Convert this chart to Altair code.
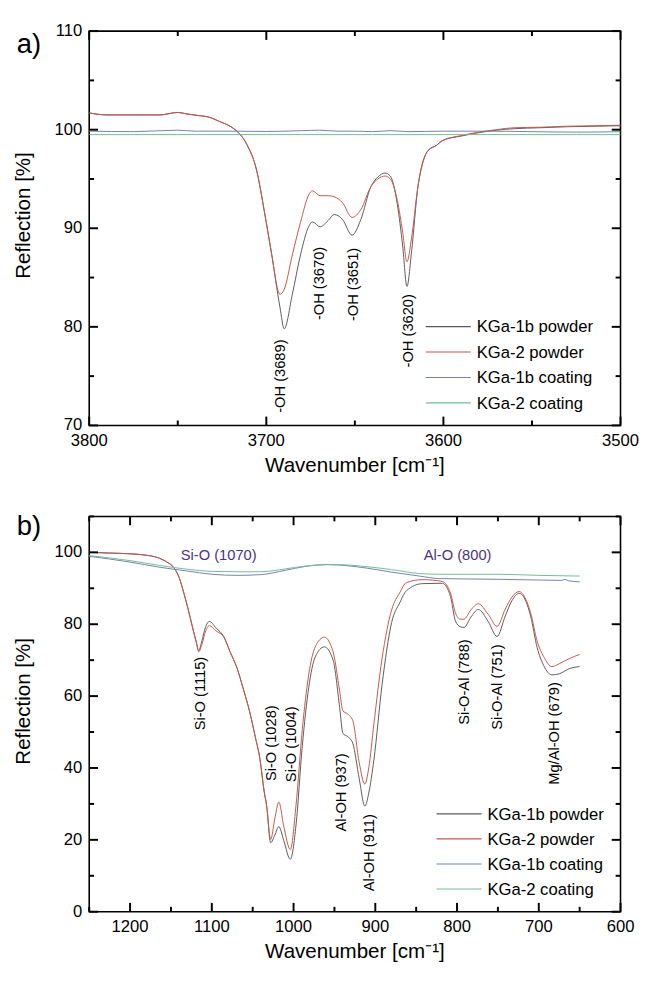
import altair as alt
import pandas as pd

FONT = "Liberation Sans, Arial, Helvetica, sans-serif"

SERIES = ["KGa-1b powder", "KGa-2 powder", "KGa-1b coating", "KGa-2 coating"]
COLORS = ["#5a5a5a", "#c4574e", "#7480aa", "#72bb93"]

# ---------------- panel a) : OH stretching region ----------------
A_WN = [3800, 3790, 3775, 3760, 3750, 3745, 3739, 3733, 3726, 3720, 3716.6, 3711, 3705.5, 3701,
        3697.2, 3692.3, 3689.9, 3685.3, 3680.7, 3676, 3674, 3669.6, 3665, 3661.7, 3657, 3651.6,
        3646.6, 3641, 3637, 3633, 3630, 3626, 3623, 3620.6, 3618, 3614.4, 3608.6, 3604, 3600.5,
        3590, 3580, 3570, 3560, 3545, 3530, 3515, 3500]
A_K1B_POWDER = [101.7, 101.5, 101.5, 101.5, 101.75, 101.6, 101.45, 101.3, 100.8, 100.3, 99.85, 98.5,
                95.9, 91.6, 87.6, 82.0, 79.8, 83.3, 87.3, 90.2, 90.65, 90.15, 90.8, 91.4, 90.9, 89.3,
                90.9, 94.2, 95.2, 95.6, 95.3, 92.4, 88.2, 84.1, 87.6, 94.2, 97.9, 98.4, 98.9,
                99.35, 99.7, 99.95, 100.1, 100.2, 100.3, 100.35, 100.4]
A_K2_POWDER = [101.7, 101.5, 101.5, 101.5, 101.75, 101.6, 101.45, 101.3, 100.8, 100.3, 99.85, 98.5,
               95.9, 91.6, 87.6, 83.3, 83.8, 87.3, 90.6, 93.4, 93.8, 93.3, 93.3, 93.2, 92.6, 91.1,
               91.9, 94.2, 95.0, 95.3, 95.0, 92.8, 89.6, 86.6, 89.0, 94.2, 97.9, 98.4, 98.9,
               99.4, 99.75, 100.0, 100.2, 100.25, 100.35, 100.4, 100.45]
A_COAT_WN = [3800, 3775, 3750, 3740, 3720, 3700, 3680, 3670, 3660, 3650, 3640, 3630, 3620, 3600,
             3575, 3550, 3525, 3500]
A_K1B_COAT = [99.85, 99.8, 99.95, 99.85, 99.85, 99.82, 99.9, 99.95, 99.85, 99.85, 99.8, 99.9, 99.8,
              99.85, 99.85, 99.8, 99.75, 99.8]
A_K2_COAT = [99.5, 99.5, 99.5, 99.5, 99.5, 99.5, 99.5, 99.5, 99.5, 99.5, 99.5, 99.5, 99.5, 99.5,
             99.5, 99.5, 99.5, 99.5]

A_LABELS = ["-OH (3689)", "-OH (3670)", "-OH (3651)", "-OH (3620)"]
A_LABEL_WN = [3692, 3670, 3651.2, 3620]
A_LABEL_Y = [75.0, 84.4, 84.3, 79.6]

A_X_MAJOR = [3800, 3700, 3600, 3500]
A_X_MINOR = [3750, 3650, 3550]
A_Y_MAJOR = [70, 80, 90, 100, 110]
A_Y_MINOR = [75, 85, 95, 105]

# ---------------- panel b) : lattice region ----------------
B_WN = [1250, 1225, 1200, 1180, 1167, 1155, 1147, 1140, 1134, 1129, 1124, 1119, 1116, 1112, 1108,
        1103, 1095, 1085, 1078, 1069, 1062, 1053, 1047, 1041, 1036, 1033, 1028, 1023, 1018, 1012,
        1004, 997, 989.4, 981.5, 973.5, 962.3, 951.6, 943.6, 939.6, 933.6, 927.6, 919.6, 912.8,
        908, 901.7, 891.7, 880, 870, 862, 842, 818, 808, 802, 796, 791.5, 783, 774, 762, 751,
        741, 733, 724, 716, 710, 702, 694, 684, 675, 662, 650]
B_K1B_POWDER = [100.0, 99.8, 99.6, 99.2, 98.6, 97.3, 95.9, 93.0, 88.5, 84.2, 79.5, 75.0, 72.7, 75.5,
                79.0, 80.8, 79.0, 76.4, 72.5, 67.7, 62.4, 55.0, 48.8, 42.3, 33.5, 29.6, 19.2, 21.3,
                23.7, 19.8, 14.6, 24.1, 45.9, 62.3, 70.9, 73.7, 70.0, 56.8, 49.6, 48.7, 46.9, 36.9,
                29.4, 33.0, 42.3, 63.2, 80.5, 86.0, 89.3, 91.3, 91.4, 87.7, 80.9, 79.3, 79.1, 82.0,
                84.1, 80.8, 76.6, 82.3, 86.5, 88.6, 86.5, 82.3, 73.5, 68.5, 65.9, 66.2, 67.7, 68.2]
B_K2_POWDER = [100.0, 99.8, 99.6, 99.2, 98.6, 97.3, 95.9, 93.0, 88.5, 84.2, 79.5, 75.0, 72.3, 74.5,
               77.8, 79.6, 78.2, 76.3, 72.5, 67.7, 62.4, 55.0, 48.8, 42.3, 33.5, 29.6, 20.1, 25.8,
               30.5, 23.8, 17.3, 29.6, 50.5, 65.9, 73.7, 76.4, 72.3, 61.4, 55.9, 55.0, 53.2, 41.4,
               35.5, 40.0, 52.3, 70.5, 84.0, 88.8, 91.6, 92.4, 91.9, 88.6, 83.2, 81.4, 81.4, 84.0,
               85.7, 82.8, 79.4, 84.2, 87.5, 89.1, 87.0, 83.2, 75.3, 71.0, 68.2, 69.0, 70.5, 71.6]
B_K1B_COAT_WN = [1250, 1200, 1165, 1130, 1100, 1069, 1040, 1010, 985, 958, 935, 910, 880, 846, 822,
                 790, 750, 700, 672, 668, 664, 650]
B_K1B_COAT = [98.9, 97.3, 95.9, 94.8, 93.9, 93.6, 93.8, 95.0, 96.1, 96.6, 96.3, 95.6, 94.5, 93.4,
              92.7, 92.6, 92.5, 92.3, 92.2, 92.5, 92.1, 91.8]
B_K2_COAT_WN = [1250, 1200, 1165, 1130, 1100, 1069, 1040, 1010, 985, 958, 935, 910, 880, 846, 822,
                790, 750, 700, 650]
B_K2_COAT = [99.1, 97.7, 96.4, 95.3, 94.7, 94.6, 94.6, 95.4, 96.2, 96.6, 96.5, 96.0, 95.2, 94.1,
             93.9, 93.9, 93.9, 93.6, 93.4]

B_LABELS = ["Si-O (1115)", "Si-O (1028)", "Si-O (1004)", "Al-OH (937)", "Al-OH (911)",
            "Si-O-Al (788)", "Si-O-Al (751)", "Mg/Al-OH (679)"]
B_LABEL_WN = [1114.4, 1027.3, 1002.6, 941.6, 907.7, 791.5, 750.5, 680.7]
B_LABEL_Y = [60.7, 46.9, 46.6, 33.2, 16.4, 63.9, 62.5, 49.6]
B_BAND_LABELS = ["Si-O (1070)", "Al-O (800)"]
B_BAND_WN = [1091.6, 799.3]
B_BAND_Y = [99.3, 99.3]

B_X_MAJOR = [1200, 1100, 1000, 900, 800, 700, 600]
B_X_MINOR = [1250, 1150, 1050, 950, 850, 750, 650]
B_Y_MAJOR = [0, 20, 40, 60, 80, 100]
B_Y_MINOR = [10, 30, 50, 70, 90, 110]

X_TITLE = "Wavenumber [cm⁻¹]"
Y_TITLE = "Reflection [%]"

W = 543
CSCALE = alt.Scale(domain=SERIES, range=COLORS)


def long_frame(parts):
    rows = []
    for name, wns, vals in parts:
        for w, v in zip(wns, vals):
            rows.append({"wn": w, "refl": v, "series": name})
    return pd.DataFrame(rows)


def panel(tag, df, xdom, ydom, H, xlabels, ylabels, xmin, ymin, legend_xy, step,
          letter, letter_y, xtitle_y, annot, band=None):
    xs = alt.Scale(domain=xdom, reverse=True, nice=False, zero=False)
    ys = alt.Scale(domain=ydom, nice=False, zero=False)

    def X(field):
        return alt.X(field, scale=xs, axis=None)

    def Y(field):
        return alt.Y(field, scale=ys, axis=None)

    # plot frame
    layers = [alt.Chart(pd.DataFrame({tag + "frame": [0]})).mark_rect(
        fill="white", stroke="black", strokeWidth=1.6).encode(
        x=alt.value(0), x2=alt.value(W), y=alt.value(0), y2=alt.value(H))]

    layers.append(alt.Chart(df).mark_line(strokeWidth=1, interpolate="monotone").encode(
        x=X("wn:Q"), y=Y("refl:Q"),
        color=alt.Color("series:N", scale=CSCALE, legend=None),
        detail="series:N",
    ))

    # tick labels
    layers.append(alt.Chart(pd.DataFrame({"t": xlabels})).mark_text(
        align="center", baseline="top", fontSize=17, font=FONT, color="black").encode(
        x=X("t:Q"), y=alt.value(H + 8), text=alt.Text("t:Q", format="d")))
    layers.append(alt.Chart(pd.DataFrame({"t": ylabels})).mark_text(
        align="right", baseline="middle", fontSize=17, font=FONT, color="black").encode(
        y=Y("t:Q"), x=alt.value(-7), text=alt.Text("t:Q", format="d")))

    # axis titles
    layers.append(alt.Chart(pd.DataFrame({"t": [X_TITLE]})).mark_text(
        align="center", baseline="alphabetic", fontSize=21, font=FONT, color="black").encode(
        text="t:N", x=alt.value(W / 2), y=alt.value(H + xtitle_y)))
    layers.append(alt.Chart(pd.DataFrame({"t": [Y_TITLE]})).mark_text(
        align="center", baseline="middle", angle=270, fontSize=21, font=FONT, color="black").encode(
        text="t:N", x=alt.value(-67), y=alt.value(H / 2 - 13)))

    # peak annotations
    labs, lwn, ly = annot
    adf = pd.DataFrame({"label": labs, "wn": lwn, "y": ly})
    layers.append(alt.Chart(adf).mark_text(angle=270, align="center", baseline="middle",
                                           fontSize=15, font=FONT, color="black").encode(
        x=X("wn:Q"), y=Y("y:Q"), text="label:N"))
    if band is not None:
        blabs, bwn, by = band
        bdf = pd.DataFrame({"label": blabs, "wn": bwn, "y": by})
        layers.append(alt.Chart(bdf).mark_text(align="center", baseline="middle",
                                               fontSize=15, font=FONT, color="#4a3384").encode(
            x=X("wn:Q"), y=Y("y:Q"), text="label:N"))

    # legend drawn by hand (thin colour bar + label per series)
    lx, ly0 = legend_xy
    for i, name in enumerate(SERIES):
        ldf = pd.DataFrame({"series": [name]})
        yy = ly0 + i * step
        layers.append(alt.Chart(ldf).mark_rect().encode(
            x=alt.value(lx), x2=alt.value(lx + 46), y=alt.value(yy - 0.6), y2=alt.value(yy + 0.6),
            color=alt.Color("series:N", scale=CSCALE, legend=None)))
        layers.append(alt.Chart(ldf).mark_text(align="left", baseline="middle", fontSize=17,
                                               font=FONT, color="black").encode(
            x=alt.value(lx + 52), y=alt.value(yy + 1), text="series:N"))

    layers.append(alt.Chart(pd.DataFrame({"t": [letter]})).mark_text(
        align="left", baseline="alphabetic", fontSize=28, font=FONT, color="black").encode(
        text="t:N", x=alt.value(-74), y=alt.value(letter_y)))

    # inward ticks on all four sides (drawn last, one field name per layer)
    k = 0
    for top in (False, True):
        for vals, length in ((xlabels, 9), (xmin, 5)):
            f = f"{tag}xt{k}"
            k += 1
            y0 = 0 if top else H
            y1 = length if top else H - length
            layers.append(alt.Chart(pd.DataFrame({f: vals})).mark_rule(
                color="black", strokeWidth=2).encode(
                x=X(f + ":Q"), y=alt.value(y0), y2=alt.value(y1)))
    for right in (False, True):
        for vals, length in ((ylabels, 9), (ymin, 5)):
            f = f"{tag}yt{k}"
            k += 1
            x0 = W if right else 0
            x1 = W - length if right else length
            layers.append(alt.Chart(pd.DataFrame({f: vals})).mark_rule(
                color="black", strokeWidth=2).encode(
                y=Y(f + ":Q"), x=alt.value(x0), x2=alt.value(x1)))

    return alt.layer(*layers).properties(width=W, height=H)


dfa = long_frame([(SERIES[0], A_WN, A_K1B_POWDER), (SERIES[1], A_WN, A_K2_POWDER),
                  (SERIES[2], A_COAT_WN, A_K1B_COAT), (SERIES[3], A_COAT_WN, A_K2_COAT)])
dfb = long_frame([(SERIES[0], B_WN, B_K1B_POWDER), (SERIES[1], B_WN, B_K2_POWDER),
                  (SERIES[2], B_K1B_COAT_WN, B_K1B_COAT), (SERIES[3], B_K2_COAT_WN, B_K2_COAT)])

top = panel("a", dfa, [3500, 3800], [70, 110], 403, A_X_MAJOR, A_Y_MAJOR, A_X_MINOR, A_Y_MINOR,
            (344, 302), 26, "a)", 22, 48, (A_LABELS, A_LABEL_WN, A_LABEL_Y))
bottom = panel("b", dfb, [600, 1250], [0, 110], 404, B_X_MAJOR, B_Y_MAJOR, B_X_MINOR, B_Y_MINOR,
               (355, 304), 25.6, "b)", 19, 47,
               (B_LABELS, B_LABEL_WN, B_LABEL_Y), (B_BAND_LABELS, B_BAND_WN, B_BAND_Y))

chart = alt.vconcat(top, bottom, spacing=38).properties(
    padding={"left": 5, "right": 5, "top": 4, "bottom": 0}
).configure_view(stroke=None)

chart.save("out.html", embed_options={"renderer": "svg", "actions": False})
